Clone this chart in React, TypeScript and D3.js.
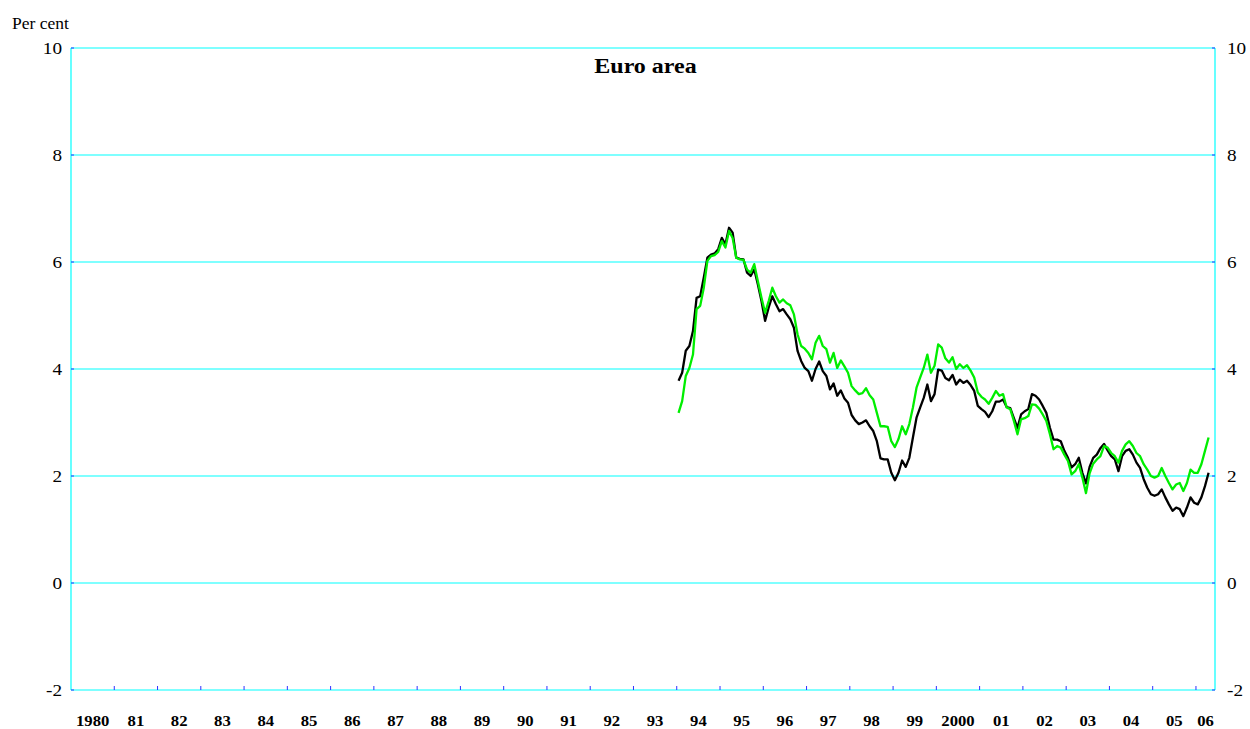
import React from "react";
import * as d3 from "d3";

// Monthly data, Jan 1994 – Apr 2006 (per cent)
const startYear = 1994;
const blackSeries: number[] = [
  3.78, 3.93, 4.34, 4.43, 4.71, 5.33, 5.36, 5.71, 6.08, 6.14, 6.16, 6.24,
  6.45, 6.33, 6.64, 6.55, 6.08, 6.06, 6.05, 5.80, 5.74, 5.86, 5.58, 5.27,
  4.90, 5.15, 5.36, 5.21, 5.08, 5.12, 5.02, 4.93, 4.77, 4.34, 4.15, 4.02,
  3.96, 3.78, 4.00, 4.14, 3.96, 3.87, 3.62, 3.73, 3.50, 3.60, 3.45, 3.37,
  3.14, 3.04, 2.97, 3.00, 3.04, 2.93, 2.84, 2.65, 2.33, 2.31, 2.31, 2.06,
  1.92, 2.06, 2.29, 2.17, 2.34, 2.72, 3.09, 3.28, 3.46, 3.71, 3.40, 3.53,
  3.99, 3.97, 3.83, 3.79, 3.89, 3.71, 3.80, 3.74, 3.78, 3.70, 3.59, 3.31,
  3.25, 3.20, 3.10, 3.21, 3.39, 3.39, 3.43, 3.29, 3.27, 3.08, 2.90, 3.15,
  3.21, 3.25, 3.53, 3.50, 3.43, 3.31, 3.18, 2.90, 2.68, 2.68, 2.65, 2.47,
  2.34, 2.16, 2.22, 2.34, 2.06, 1.86, 2.17, 2.34, 2.40, 2.52, 2.60, 2.48,
  2.37, 2.31, 2.09, 2.37, 2.47, 2.50, 2.40, 2.25, 2.15, 1.94, 1.78, 1.66,
  1.63, 1.66, 1.75, 1.60, 1.47, 1.35, 1.41, 1.38, 1.25, 1.41, 1.60, 1.50,
  1.47, 1.60, 1.81, 2.06,
];
const greenSeries: number[] = [
  3.18, 3.40, 3.87, 4.02, 4.27, 5.12, 5.18, 5.52, 6.02, 6.11, 6.13, 6.19,
  6.39, 6.27, 6.58, 6.45, 6.08, 6.05, 6.04, 5.86, 5.80, 5.96, 5.64, 5.33,
  5.05, 5.27, 5.52, 5.36, 5.24, 5.30, 5.23, 5.19, 5.02, 4.65, 4.43, 4.38,
  4.30, 4.18, 4.49, 4.62, 4.43, 4.37, 4.12, 4.30, 4.02, 4.16, 4.05, 3.93,
  3.68, 3.60, 3.53, 3.55, 3.64, 3.51, 3.43, 3.18, 2.93, 2.93, 2.92, 2.65,
  2.54, 2.69, 2.93, 2.78, 2.97, 3.28, 3.65, 3.84, 4.02, 4.27, 3.93, 4.06,
  4.46, 4.40, 4.20, 4.12, 4.22, 4.00, 4.09, 4.02, 4.07, 3.97, 3.84, 3.56,
  3.48, 3.43, 3.35, 3.46, 3.59, 3.50, 3.53, 3.28, 3.25, 3.03, 2.78, 3.06,
  3.08, 3.12, 3.34, 3.33, 3.26, 3.15, 3.03, 2.78, 2.50, 2.56, 2.53, 2.40,
  2.28, 2.03, 2.09, 2.22, 1.97, 1.68, 2.05, 2.23, 2.31, 2.37, 2.56, 2.53,
  2.43, 2.37, 2.25, 2.47, 2.59, 2.65, 2.56, 2.43, 2.37, 2.22, 2.12, 2.00,
  1.97, 2.00, 2.15, 2.00, 1.87, 1.75, 1.84, 1.87, 1.72, 1.87, 2.12, 2.06,
  2.06, 2.22, 2.47, 2.72,
];
const yTicks: number[] = [-2, 0, 2, 4, 6, 8, 10];
const yearLabels: string[] = [
  "1980", "81", "82", "83", "84", "85", "86", "87", "88", "89", "90", "91", "92",
  "93", "94", "95", "96", "97", "98", "99", "2000", "01", "02", "03", "04", "05", "06",
];
const firstYear = 1980;
const lastX = 2006.44;
const title = "Euro area";
const unitLabel = "Per cent";

const W = 1250;
const H = 729;
const left = 71;
const right = 1215;
const top = 48;
const bottom = 690;

const FONT = "'Liberation Serif', 'Times New Roman', serif";
const CYAN = "#00ffff";
const TICK = "#3030ff";

export default function App() {
  const x = d3.scaleLinear().domain([firstYear, lastX]).range([left, right]);
  const y = d3.scaleLinear().domain([-2, 10]).range([bottom, top]);

  const toPts = (arr: number[]) =>
    arr.map((v, i) => ({ t: startYear + (i + 0.5) / 12, v }));
  const line = d3
    .line<{ t: number; v: number }>()
    .x((d) => x(d.t))
    .y((d) => y(d.v));

  const yearTicks = d3.range(firstYear + 1, 2007);

  return (
    <svg
      width={W}
      height={H}
      style={{ position: "absolute", left: 0, top: 0, background: "#fff" }}
      fontFamily={FONT}
    >
      {/* gridlines */}
      {yTicks.map((t) => (
        <line
          key={"g" + t}
          x1={left}
          x2={right}
          y1={y(t)}
          y2={y(t)}
          stroke={CYAN}
          strokeWidth={1.2}
        />
      ))}
      {/* frame verticals */}
      <line x1={left} x2={left} y1={top} y2={bottom} stroke={CYAN} strokeWidth={1.2} />
      <line x1={right} x2={right} y1={top} y2={bottom} stroke={CYAN} strokeWidth={1.2} />
      {/* y tick marks */}
      {yTicks.map((t) => (
        <g key={"yt" + t}>
          <line x1={left} x2={left + 3} y1={y(t)} y2={y(t)} stroke={TICK} strokeWidth={1} />
          <line x1={right - 3} x2={right} y1={y(t)} y2={y(t)} stroke={TICK} strokeWidth={1} />
        </g>
      ))}
      {/* x tick marks */}
      {yearTicks.map((yr) => (
        <line
          key={"xt" + yr}
          x1={x(yr)}
          x2={x(yr)}
          y1={bottom}
          y2={bottom - 4}
          stroke={TICK}
          strokeWidth={1}
        />
      ))}
      {/* y labels */}
      {yTicks.map((t) => (
        <g key={"yl" + t}>
          <g transform={`translate(62,${y(t) + 5.5}) scale(1.2,1)`}>
            <text textAnchor="end" fontSize={16} fill="#000">
              {t}
            </text>
          </g>
          <g transform={`translate(1227,${y(t) + 5.5}) scale(1.2,1)`}>
            <text textAnchor="start" fontSize={16} fill="#000">
              {t}
            </text>
          </g>
        </g>
      ))}
      {/* x labels */}
      {yearLabels.map((lab, i) => {
        const yr = firstYear + i;
        const cx = (x(yr) + x(Math.min(yr + 1, lastX))) / 2;
        return (
          <g key={"xl" + lab} transform={`translate(${cx},726) scale(1.15,1)`}>
            <text textAnchor="middle" fontSize={14.5} fontWeight="bold" fill="#000">
              {lab}
            </text>
          </g>
        );
      })}
      {/* unit label */}
      <text x={12} y={29} fontSize={17.5} fill="#000">
        {unitLabel}
      </text>
      {/* title */}
      <g transform={`translate(645.5,72.5) scale(1.2,1)`}>
        <text textAnchor="middle" fontSize={20} fontWeight="bold" fill="#000">
          {title}
        </text>
      </g>
      {/* series */}
      <path
        d={line(toPts(blackSeries)) || ""}
        fill="none"
        stroke="#000"
        strokeWidth={2.3}
        strokeLinejoin="round"
      />
      <path
        d={line(toPts(greenSeries)) || ""}
        fill="none"
        stroke="#00ee00"
        strokeWidth={2.3}
        strokeLinejoin="round"
      />
    </svg>
  );
}
